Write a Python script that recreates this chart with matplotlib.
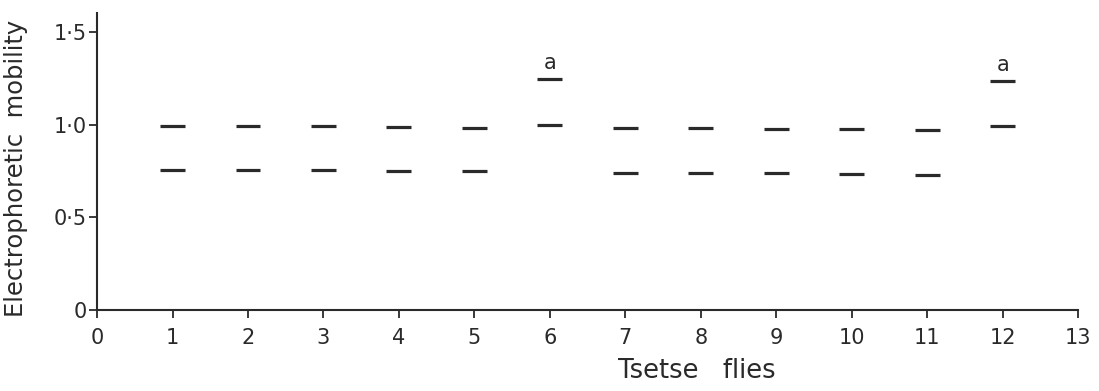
import matplotlib
matplotlib.use("Agg")
import matplotlib.pyplot as plt
import numpy as np

flies = [1, 2, 3, 4, 5, 6, 7, 8, 9, 10, 11, 12]
upper_band = [0.995, 0.995, 0.995, 0.99, 0.985, 1.0, 0.985, 0.985, 0.98, 0.98, 0.975, 0.995]
lower_flies = [1, 2, 3, 4, 5, 7, 8, 9, 10, 11]
lower_band = [0.755, 0.755, 0.755, 0.75, 0.75, 0.74, 0.74, 0.74, 0.735, 0.73]
a_flies = [6, 12]
a_band = [1.25, 1.238]

x_ticks = list(range(0, 14))
y_ticks = [0, 0.5, 1.0, 1.5]
y_tick_labels = ["0", "0·5", "1·0", "1·5"]

plt.rcParams['font.family'] = ['DejaVu Sans']
fig = plt.figure(figsize=(10.99, 3.91), dpi=100)
ax = fig.add_axes([0.0883, 0.207, 0.8927, 0.760])

hw = 0.165
lw = 2.3
col = "#2a2a2a"
fx = np.array(flies)
ax.hlines(upper_band, fx - hw, fx + hw, colors=col, linewidth=lw)
lx = np.array(lower_flies)
ax.hlines(lower_band, lx - hw, lx + hw, colors=col, linewidth=lw)
axx = np.array(a_flies)
ax.hlines(a_band, axx - hw, axx + hw, colors=col, linewidth=lw)
for xa, ya in zip(a_flies, a_band):
    ax.annotate("a", (xa, ya), xytext=(0, 4), textcoords="offset points",
                ha="center", va="bottom", fontsize=15, color=col)

ax.set_xlim(0, 13)
ax.set_ylim(0, 1.605)
ax.spines['top'].set_visible(False)
ax.spines['right'].set_visible(False)
for s in ['left', 'bottom']:
    ax.spines[s].set_linewidth(1.5)
    ax.spines[s].set_color(col)
ax.set_xticks(x_ticks)
ax.set_xticklabels([str(t) for t in x_ticks])
ax.set_yticks(y_ticks)
ax.set_yticklabels(y_tick_labels)
ax.tick_params(axis='both', direction='out', length=6, width=1.3, colors=col,
               labelsize=15)
ax.tick_params(axis='x', pad=7)
ax.tick_params(axis='y', pad=1.5)
ax.set_xlabel("Tsetse   flies", fontsize=18.5, color=col)
ax.xaxis.set_label_coords(0.611, -0.16)
ax.set_ylabel("Electrophoretic  mobility", fontsize=17.5, color=col)
ax.yaxis.set_label_coords(-0.070, 0.478)

fig.savefig("out.png", dpi=100)
